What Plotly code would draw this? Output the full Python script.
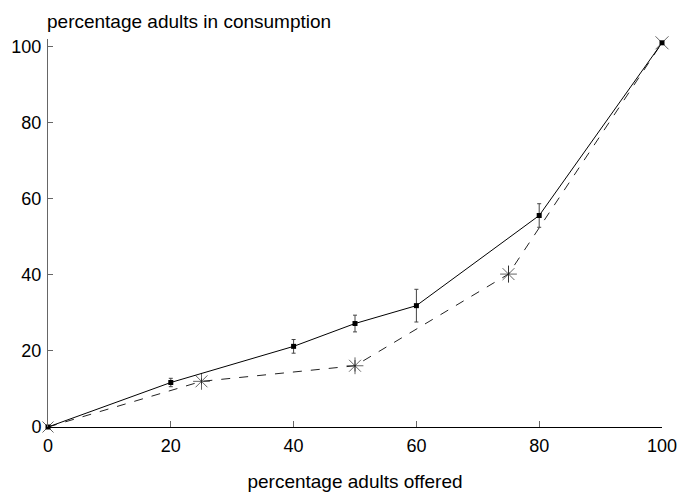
import plotly.graph_objects as go

# Data
offered_solid = [0, 20, 40, 50, 60, 80, 100]
consumed_solid = [0, 11.7, 21.2, 27.2, 31.9, 55.6, 101]
err_solid = [0, 1.1, 1.8, 2.2, 4.3, 3.1, 0]

offered_dash = [0, 25, 50, 75, 100]
consumed_dash = [0, 12.0, 16.1, 40.2, 101]
err_dash = [0, 0.8, 1.5, 2.2, 0]

x_ticks = [0, 20, 40, 60, 80, 100]
y_ticks = [0, 20, 40, 60, 80, 100]

FONT = "Liberation Sans, Arial, sans-serif"

fig = go.Figure()

fig.add_trace(go.Scatter(
    x=offered_dash, y=consumed_dash,
    mode="lines+markers",
    line=dict(color="#222222", width=1, dash="dash"),
    marker=dict(symbol=["x-thin-open", "asterisk-open", "asterisk-open", "asterisk-open", "x-thin-open"],
                size=[11, 14, 14, 14, 13],
                line=dict(color="#222222", width=1), color="#222222"),
    error_y=dict(type="data", array=err_dash, color="#555555", thickness=1, width=0),
    cliponaxis=False, showlegend=False,
))

fig.add_trace(go.Scatter(
    x=offered_solid, y=consumed_solid,
    mode="lines+markers",
    line=dict(color="#000000", width=1),
    marker=dict(symbol="square", size=5, color="#000000"),
    error_y=dict(type="data", array=err_solid, color="#444444", thickness=1, width=2),
    cliponaxis=False, showlegend=False,
))

fig.update_layout(
    width=683, height=492,
    margin=dict(l=48, r=21, t=39, b=65),
    paper_bgcolor="white", plot_bgcolor="white",
    font=dict(family=FONT, size=18, color="#000000"),
    xaxis=dict(
        range=[0, 100], tickvals=x_ticks, ticktext=[str(v) for v in x_ticks],
        showgrid=False, zeroline=False, automargin=False,
        showline=True, linecolor="#000000", linewidth=1,
        ticks="inside", ticklen=6, tickcolor="#666666",
        tickfont=dict(family=FONT, size=18),
        ticklabelstandoff=2,
        title=dict(text="percentage adults offered", font=dict(family=FONT, size=19), standoff=21),
    ),
    yaxis=dict(
        range=[0, 102], tickvals=y_ticks, ticktext=[str(v) for v in y_ticks],
        showgrid=False, zeroline=False, automargin=False,
        showline=True, linecolor="#666666", linewidth=1,
        ticks="inside", ticklen=5, tickcolor="#666666",
        tickfont=dict(family=FONT, size=18),
        ticklabelstandoff=2,
    ),
    annotations=[dict(
        text="percentage adults in consumption", xref="paper", yref="paper",
        x=0, y=1, xanchor="left", yanchor="middle", yshift=18, xshift=-3, showarrow=False,
        font=dict(family=FONT, size=19),
    )],
)

fig.write_html("out.html")
